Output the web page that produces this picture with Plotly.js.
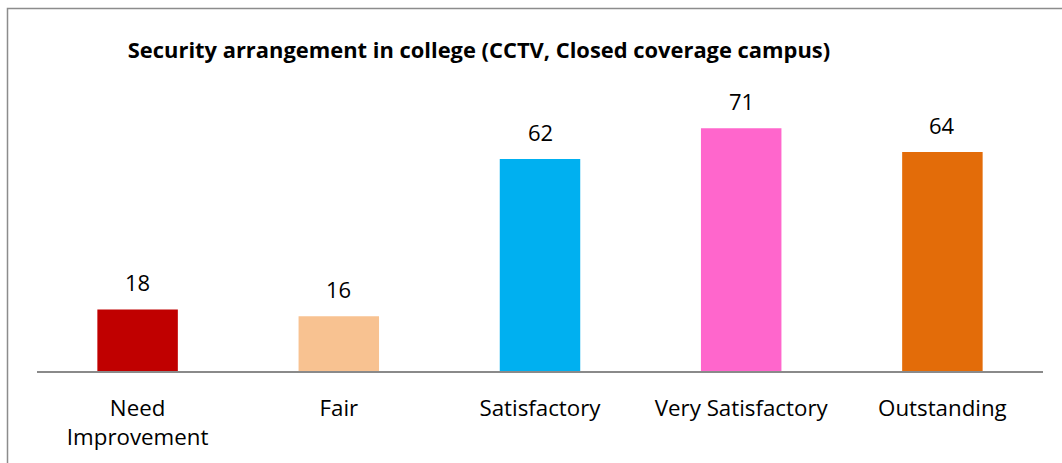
<!DOCTYPE html>
<html>
<head>
<meta charset="utf-8">
<script src="https://cdn.plot.ly/plotly-3.0.1.min.js"></script>
<style>
  html, body { margin: 0; padding: 0; background: #ffffff; }
  #chart { width: 1062px; height: 463px; }
</style>
</head>
<body>
<div id="chart"></div>
<script>
const categories = ["Need<br>Improvement", "Fair", "Satisfactory", "Very Satisfactory", "Outstanding"];
const values = [18, 16, 62, 71, 64];
const barColors = ["#C00000", "#F8C291", "#00B0F0", "#FF66CC", "#E36C09"];
const chartTitle = "Security arrangement in college (CCTV, Closed coverage campus)";

const FONT = "'Open Sans', sans-serif";

const trace = {
  type: "bar",
  x: categories,
  y: values,
  marker: { color: barColors, line: { width: 0 } },
  hoverinfo: "skip"
};

const annotations = categories.map((c, i) => ({
  x: c,
  y: values[i],
  xref: "x",
  yref: "y",
  text: String(values[i]),
  showarrow: false,
  yanchor: "bottom",
  yshift: 10,
  font: { family: FONT, size: 22, color: "#000000" }
}));

const layout = {
  width: 1062,
  height: 463,
  margin: { l: 37, r: 19, t: 29, b: 92 },
  paper_bgcolor: "#ffffff",
  plot_bgcolor: "#ffffff",
  showlegend: false,
  bargap: 0.6,
  title: {
    text: "<b>" + chartTitle + "</b>",
    font: { family: FONT, size: 21.9, color: "#000000" },
    xref: "container",
    yref: "container",
    x: 0.451,
    xanchor: "center",
    y: 1 - 50 / 463,
    yanchor: "middle"
  },
  xaxis: {
    type: "category",
    showline: true,
    linecolor: "#8a8a8a",
    linewidth: 1.5,
    ticks: "",
    showgrid: false,
    zeroline: false,
    ticklabelstandoff: 17,
    tickfont: { family: FONT, size: 22.3, color: "#000000" }
  },
  yaxis: {
    visible: false,
    range: [0, 100],
    showgrid: false,
    zeroline: false
  },
  annotations: annotations,
  shapes: [{
    type: "rect",
    xref: "paper",
    yref: "paper",
    x0: (7.5 - 37) / 1006,
    x1: 1.2,
    y0: -0.6,
    y1: (371 - 8.5) / 342,
    line: { color: "#8c8c8c", width: 1.5 },
    fillcolor: "rgba(0,0,0,0)",
    layer: "below"
  }]
};

Plotly.newPlot("chart", [trace], layout, { displayModeBar: false, staticPlot: true });
</script>
</body>
</html>
